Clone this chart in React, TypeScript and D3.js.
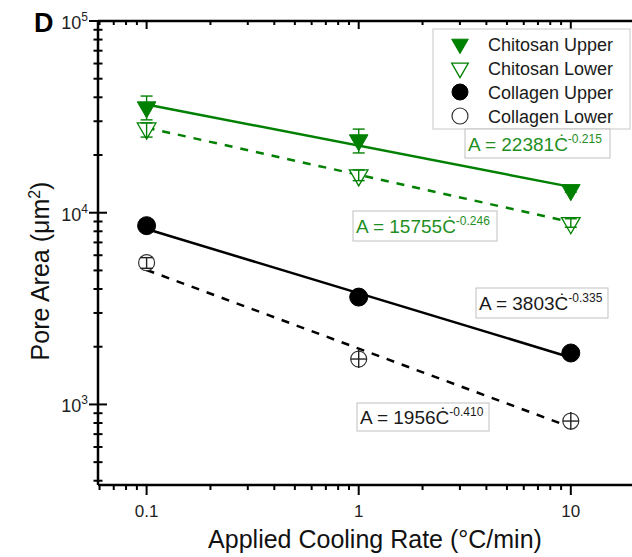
import React from 'react';
import * as d3 from 'd3';

const WIDTH = 632;
const HEIGHT = 557;
const GREEN = '#008000';
const TEXT_GREEN = '#1f8f1f';

// cooling rates (°C/min)
const rates = [0.1, 1, 10];

// pore area (µm²)
const chitosanUpper = [35500, 23900, 13140];
const chitosanUpperLo = [30500, 20500, 12800];
const chitosanUpperHi = [40600, 27300, 13500];

const chitosanLower = [27550, 15700, 8840];
const chitosanLowerLo = [24800, 14700, 8400];
const chitosanLowerHi = [29400, 16700, 9300];

const collagenUpper = [8560, 3630, 1855];

const collagenLower = [5490, 1725, 819];
const collagenLowerLo = [5130, 1710, 812];
const collagenLowerHi = [5830, 1740, 826];

const legendLabels = ['Chitosan Upper', 'Chitosan Lower', 'Collagen Upper', 'Collagen Lower'];

// power law fits A = a * C^b
const fitA = [22381, 15755, 3803, 1956];
const fitB = [-0.215, -0.246, -0.335, -0.410];

const xTickLabels = ['0.1', '1', '10'];
const yTickExps = ['3', '4', '5'];

const xScale = d3.scaleLog().domain([0.059, 30]).range([98, 672]);
const yScale = d3.scaleLog().domain([380, 1e5]).range([485, 21]);

const triDown = d3.symbol().type(d3.symbolTriangle).size(150)();
const triLegend = d3.symbol().type(d3.symbolTriangle).size(120)();

const isMajor = (v: number) => Math.abs(Math.log10(v) - Math.round(Math.log10(v))) < 1e-6;

type Series = {
  values: number[];
  lo?: number[];
  hi?: number[];
  color: string;
  marker: 'triFill' | 'triOpen' | 'circFill' | 'circOpen';
  dashed: boolean;
};

const series: Series[] = [
  { values: chitosanUpper, lo: chitosanUpperLo, hi: chitosanUpperHi, color: GREEN, marker: 'triFill', dashed: false },
  { values: chitosanLower, lo: chitosanLowerLo, hi: chitosanLowerHi, color: GREEN, marker: 'triOpen', dashed: true },
  { values: collagenUpper, color: '#000', marker: 'circFill', dashed: false },
  { values: collagenLower, lo: collagenLowerLo, hi: collagenLowerHi, color: '#000', marker: 'circOpen', dashed: true },
];

// annotation boxes (layout only)
const boxes = [
  { x: 465, y: 129, w: 145, h: 29 },
  { x: 353, y: 211, w: 144, h: 30 },
  { x: 476, y: 288, w: 132, h: 30 },
  { x: 357, y: 403, w: 132, h: 28 },
];

const Marker = ({ kind, color, x, y, legend }: { kind: string; color: string; x: number; y: number; legend?: boolean }) => {
  if (kind === 'triFill' || kind === 'triOpen') {
    const open = kind === 'triOpen';
    return (
      <path
        d={legend ? triLegend : triDown}
        transform={`translate(${x},${y}) rotate(180)`}
        fill={open ? '#fff' : color}
        stroke={color}
        strokeWidth={open ? 1.3 : 1}
      />
    );
  }
  const open = kind === 'circOpen';
  const r = legend ? 8 : open ? 8 : 9;
  return <circle cx={x} cy={y} r={r} fill={open ? '#fff' : color} stroke={open ? '#333' : color} strokeWidth={open ? 1.2 : 1} />;
};

const App = () => {
  const ticksX = xScale.ticks();
  const ticksY = yScale.ticks();

  const fitPath = (a: number, b: number) =>
    d3.line<number>()
      .x(d => xScale(d))
      .y(d => yScale(a * Math.pow(d, b)))([rates[0], rates[rates.length - 1]]) as string;

  const font = '"Liberation Sans", Arial, sans-serif';

  return (
    <svg width={WIDTH} height={HEIGHT} style={{ position: 'absolute', left: 0, top: 0, background: '#fff' }} fontFamily={font}>
      {/* fit lines */}
      {series.map((s, i) => (
        <path
          key={'fit' + i}
          d={fitPath(fitA[i], fitB[i])}
          fill="none"
          stroke={s.color}
          strokeWidth={2.5}
          strokeDasharray={s.dashed ? '8,8' : undefined}
        />
      ))}

      {/* markers */}
      {series.map((s, i) =>
        s.values.map((v, j) => (
          <Marker key={`m${i}-${j}`} kind={s.marker} color={s.color} x={xScale(rates[j])} y={yScale(v)} />
        ))
      )}

      {/* error bars */}
      {series.map((s, i) =>
        s.lo && s.hi
          ? s.values.map((v, j) => {
              const cx = xScale(rates[j]);
              const cy = yScale(v);
              const y0 = yScale(s.lo![j]);
              const y1 = yScale(s.hi![j]);
              const c = s.marker === 'circOpen' ? '#222' : s.color;
              const cross = s.marker === 'circOpen' && Math.abs(y0 - y1) < 8;
              return (
                <g key={`e${i}-${j}`} stroke={c} strokeWidth={1.4}>
                  {cross ? (
                    <>
                      <line x1={cx} x2={cx} y1={cy - 9} y2={cy + 9} />
                      <line x1={cx - 8} x2={cx + 8} y1={cy} y2={cy} />
                    </>
                  ) : (
                    <>
                      <line x1={cx} x2={cx} y1={y0} y2={y1} />
                      <line x1={cx - 6} x2={cx + 6} y1={y0} y2={y0} />
                      <line x1={cx - 6} x2={cx + 6} y1={y1} y2={y1} />
                    </>
                  )}
                </g>
              );
            })
          : null
      )}

      {/* axes */}
      <g stroke="#000">
        <line x1={xScale.range()[0]} x2={WIDTH} y1={yScale.range()[0]} y2={yScale.range()[0]} strokeWidth={2.5} />
        <line x1={xScale.range()[0]} x2={WIDTH} y1={yScale.range()[1]} y2={yScale.range()[1]} strokeWidth={2.5} />
        <line x1={xScale.range()[0]} x2={xScale.range()[0]} y1={yScale.range()[0]} y2={yScale.range()[1]} strokeWidth={2.5} />
        {ticksX.map((t, i) => {
          const x = xScale(t);
          const m = isMajor(t);
          return (
            <g key={'tx' + i} strokeWidth={2}>
              <line x1={x} x2={x} y1={yScale.range()[0]} y2={yScale.range()[0] + (m ? 10 : 5)} />
              <line x1={x} x2={x} y1={yScale.range()[1]} y2={yScale.range()[1] + (m ? 8 : 4)} />
            </g>
          );
        })}
        {ticksY.map((t, i) => {
          const y = yScale(t);
          const m = isMajor(t);
          const x0 = xScale.range()[0];
          return <line key={'ty' + i} x1={x0 - (m ? 9 : 4.5)} x2={x0 + (m ? 9 : 4.5)} y1={y} y2={y} strokeWidth={2} />;
        })}
      </g>

      {/* x tick labels */}
      {xTickLabels.map(l => (
        <text key={l} x={xScale(+l)} y={517} textAnchor="middle" fontSize={17} fill="#222">
          {l}
        </text>
      ))}

      {/* y tick labels */}
      {yTickExps.map(e => (
        <text key={e} x={88} y={yScale(Math.pow(10, +e)) + 8} textAnchor="end" fontSize={18} fill="#222">
          10<tspan dy={-8} fontSize={12}>{e}</tspan>
        </text>
      ))}

      <text x={34} y={32} fontSize={27} fontWeight="bold" fill="#000">D</text>

      {/* axis titles */}
      <text x={375} y={548} textAnchor="middle" fontSize={25} fill="#111">
        Applied Cooling Rate (°C/min)
      </text>
      <text transform="translate(49,271) rotate(-90)" textAnchor="middle" fontSize={25} fill="#111">
        Pore Area (μm<tspan dy={-9} fontSize={16}>2</tspan><tspan dy={9}>)</tspan>
      </text>

      {/* legend */}
      <rect x={433} y={29} width={197} height={100} fill="#fff" stroke="#c8c8c8" strokeWidth={1} />
      {legendLabels.map((l, i) => {
        const y = 44 + i * 24;
        return (
          <g key={l}>
            <Marker kind={series[i].marker} color={series[i].color} x={460} y={y} legend />
            <text x={488} y={y + 7} fontSize={18} fill="#1a1a1a">{l}</text>
          </g>
        );
      })}

      {/* fit annotations */}
      {boxes.map((b, i) => (
        <g key={'a' + i}>
          <rect x={b.x} y={b.y} width={b.w} height={b.h} fill="#fff" stroke="#c0c0c0" strokeWidth={1} />
          <text x={b.x + 3} y={b.y + b.h / 2 + 7} fontSize={19} fill={i < 2 ? TEXT_GREEN : '#1a1a1a'}>
            A = {fitA[i]}Ċ<tspan dy={-8} fontSize={12}>{fitB[i].toFixed(3)}</tspan>
          </text>
        </g>
      ))}
    </svg>
  );
};

export default App;
